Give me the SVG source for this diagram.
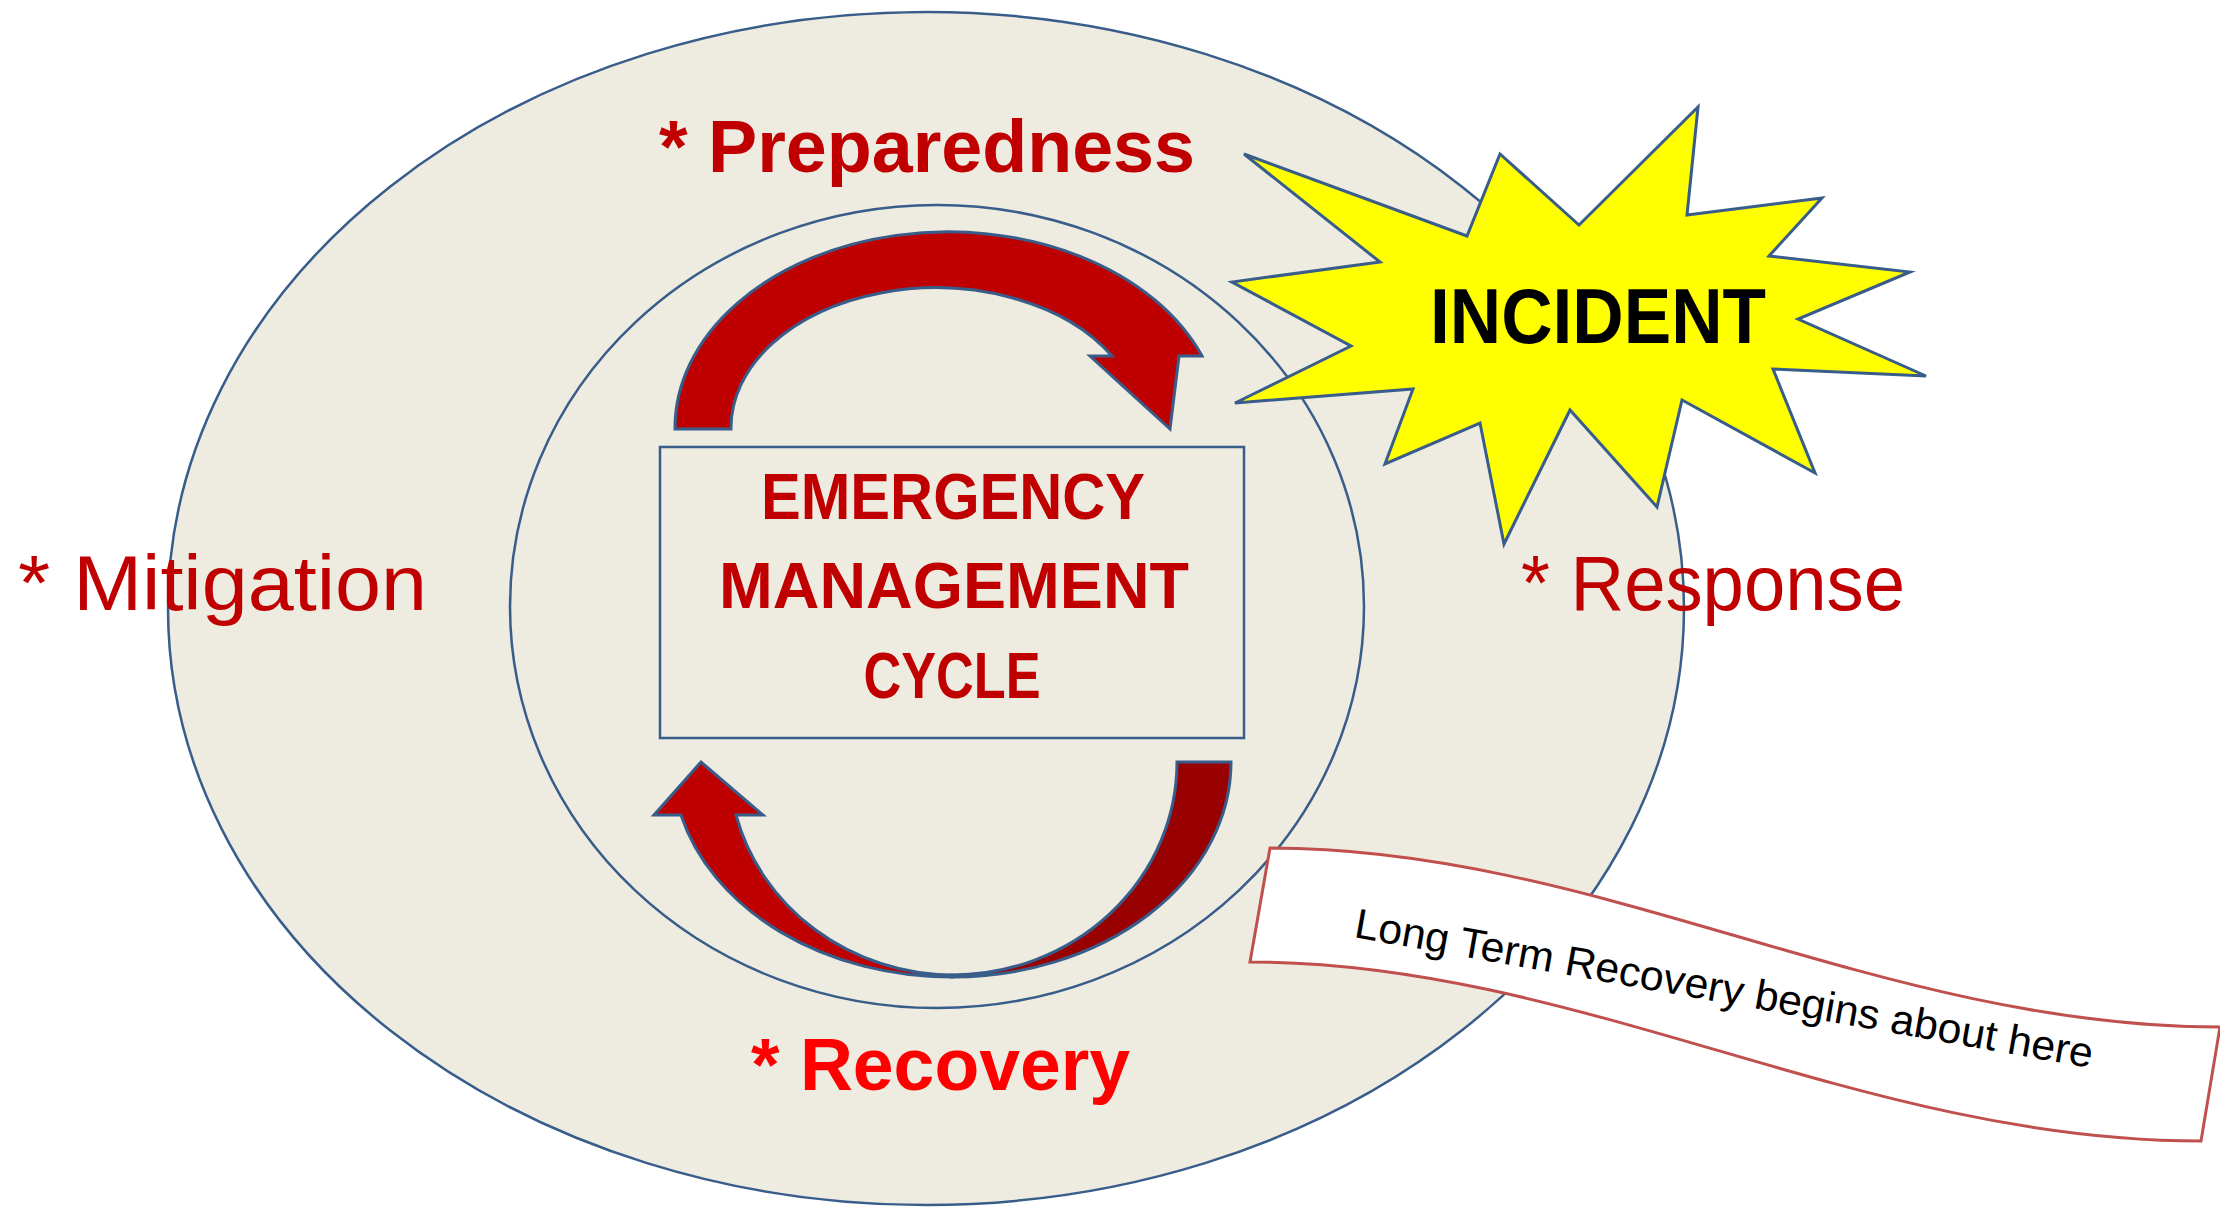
<svg xmlns="http://www.w3.org/2000/svg" width="2220" height="1207" viewBox="0 0 2220 1207">
<style>
.ring{fill:#EEEBE0;stroke:#385D8A;stroke-width:2.5}
.line{fill:none;stroke:#385D8A;stroke-width:2.5}
.arrow{stroke:#385D8A;stroke-width:3;stroke-linejoin:miter}
.lbl{font-family:"Liberation Sans",Arial,sans-serif;fill:#C00000}
.b{font-weight:bold}
</style>
<rect width="2220" height="1207" fill="#FFFFFF"/>
<g id="outer-ring">
<ellipse class="ring" cx="926" cy="608.5" rx="758" ry="596.5"/>
</g>
<g id="inner-ring">
<ellipse class="ring" cx="937" cy="606.5" rx="427" ry="401.5"/>
</g>
<g id="cycle-box">
<rect class="line" x="660" y="447" width="584" height="291"/>
<text class="lbl b" x="953" y="519" font-size="65" text-anchor="middle" textLength="384" lengthAdjust="spacingAndGlyphs">EMERGENCY</text>
<text class="lbl b" x="954" y="608" font-size="65" text-anchor="middle" textLength="470" lengthAdjust="spacingAndGlyphs">MANAGEMENT</text>
<text class="lbl b" x="952" y="698" font-size="65" text-anchor="middle" textLength="177" lengthAdjust="spacingAndGlyphs">CYCLE</text>
</g>
<g id="connectors">
<path class="arrow" fill="#BE0000" d="M675,429 A273 196 0 0 1 1202,356 L1179,356 L1170,429 L1090,356 L1112,356 A205 140 0 0 0 731,429 Z"/>
<path class="arrow" fill="#990000" d="M1177,762 L1231,762 A279 215 0 0 1 952,977 L952,975 A225 213 0 0 0 1177,762 Z"/>
<path class="arrow" fill="#BE0000" d="M952,977 A279 215 0 0 1 681,815 L654,815 L701,762 L763,815 L736,815 A225 213 0 0 0 952,975 Z"/>
</g>
<g id="incident">
<polygon fill="#FFFF00" stroke="#385D8A" stroke-width="3" stroke-linejoin="miter" points="1244,154 1467,236 1500,154 1579,225 1698,107 1687,215 1822,198 1769,256 1910,272 1798,319 1926,376 1773,369 1815,473 1682,400 1657,507 1570,410 1504,544 1480,423 1385,464 1413,389 1235,403 1351,346 1232,282 1380,262"/>
<text x="1430" y="343" font-family="Liberation Sans,Arial,sans-serif" font-weight="bold" font-size="77" fill="#000000" textLength="336" lengthAdjust="spacingAndGlyphs">INCIDENT</text>
</g>
<g id="banner">
<path fill="#FFFFFF" stroke="#C0504D" stroke-width="3" d="M1270,848 C1600,848 1880,1027 2220,1027 L2201,1141 C1860,1141 1580,962 1250,962 Z"/>
<text transform="translate(1353,937) rotate(10.07)" x="0" y="0" font-family="Liberation Sans,Arial,sans-serif" font-size="42" fill="#000000" textLength="749" lengthAdjust="spacingAndGlyphs">Long Term Recovery begins about here</text>
</g>
<g id="phase-labels">
<text id="preparedness" class="lbl b" x="659" y="172" font-size="74" textLength="536" lengthAdjust="spacingAndGlyphs">* Preparedness</text>
<text id="mitigation" class="lbl" x="18" y="610" font-size="77" textLength="409" lengthAdjust="spacingAndGlyphs">* Mitigation</text>
<text id="response" class="lbl" x="1521" y="610" font-size="77" textLength="384" lengthAdjust="spacingAndGlyphs">* Response</text>
<text id="recovery" class="lbl b" x="751" y="1090" font-size="75" fill="#FF0000" style="fill:#FF0000" textLength="379" lengthAdjust="spacingAndGlyphs">* Recovery</text>
</g>
</svg>
